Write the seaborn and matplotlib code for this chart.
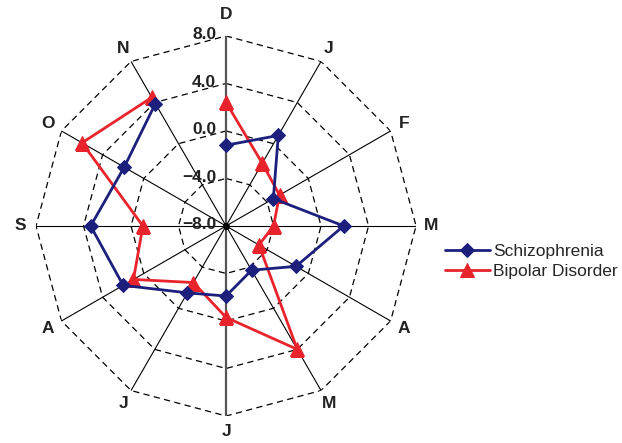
import numpy as np
import pandas as pd
import matplotlib
matplotlib.use("Agg")
import matplotlib.pyplot as plt
import seaborn as sns

sns.set_style("white")
plt.rcParams['font.family'] = ['Liberation Sans', 'DejaVu Sans']

# --- Data ---
months = ['D', 'J', 'F', 'M', 'A', 'M', 'J', 'J', 'A', 'S', 'O', 'N']
schizophrenia = [-1.2, 0.8, -3.4, 1.9, -1.2, -3.7, -2.1, -1.5, 2.0, 3.4, 1.9, 3.9]
bipolar = [2.4, -1.9, -2.8, -4.0, -4.8, 4.0, -0.3, -2.5, 1.0, -1.0, 6.0, 4.5]
ring_values = [-8, -4, 0, 4, 8]
ring_labels = ['−8.0', '−4.0', '0.0', '4.0', '8.0']

navy = '#1c1f7c'
red = '#e8232b'

n = len(months)
theta = np.arange(n) * 2 * np.pi / n

fig = plt.figure(figsize=(6.22, 4.43), dpi=100)
ax = fig.add_axes([0.0579, 0.0609, 0.611, 0.858], projection='polar')
ax.set_theta_zero_location('N')
ax.set_theta_direction(-1)
ax.set_ylim(-8, 8)
ax.grid(False)
ax.spines['polar'].set_visible(False)
ax.set_xticks([])
ax.set_yticks([])

# polygon rings (dashed)
closed = np.append(theta, theta[0])
for v in ring_values[1:]:
    ax.plot(closed, [v] * (n + 1), color='black', ls=(0, (5, 3.5)), lw=0.9, zorder=1)

# spokes
for i, t in enumerate(theta):
    if i in (0, 6):
        ax.plot([t, t], [-8, 8], color='#555555', lw=1.6, zorder=1)
    else:
        ax.plot([t, t], [-8, 8], color='black', lw=0.8, zorder=1)
ax.plot([0], [-8], marker='o', color='black', ms=4, zorder=2)

# series
df_s = pd.DataFrame({'theta': closed, 'value': schizophrenia + schizophrenia[:1]})
df_b = pd.DataFrame({'theta': closed, 'value': bipolar + bipolar[:1]})
sns.lineplot(data=df_s, x='theta', y='value', ax=ax, sort=False, color=navy, lw=2,
             marker='D', markersize=7, markeredgecolor=navy, label='Schizophrenia', zorder=4)
sns.lineplot(data=df_b, x='theta', y='value', ax=ax, sort=False, color=red, lw=2,
             marker='^', markersize=10, markeredgecolor=red, label='Bipolar Disorder', zorder=3)
ax.set_xlabel('')
ax.set_ylabel('')

# ring labels
for v, lab in zip(ring_values, ring_labels):
    ax.annotate(lab, xy=(0, v), xytext=(-7, 1), textcoords='offset points',
                ha='right', va='center', fontsize=12.5, fontweight='bold', color='#222222')

# month labels
for t, lab in zip(theta, months):
    r = 9.8 if t == 0 else 9.3
    ax.text(t, r, lab, ha='center', va='center', fontsize=12.5, fontweight='bold',
            color='#222222', clip_on=False)

leg = ax.legend(loc='center left', bbox_to_anchor=(0.69, 0.41), bbox_transform=fig.transFigure,
                frameon=False, fontsize=12.5, handlelength=2.6, handletextpad=0.2,
                labelspacing=0.3)

fig.savefig('out.png', dpi=100)
